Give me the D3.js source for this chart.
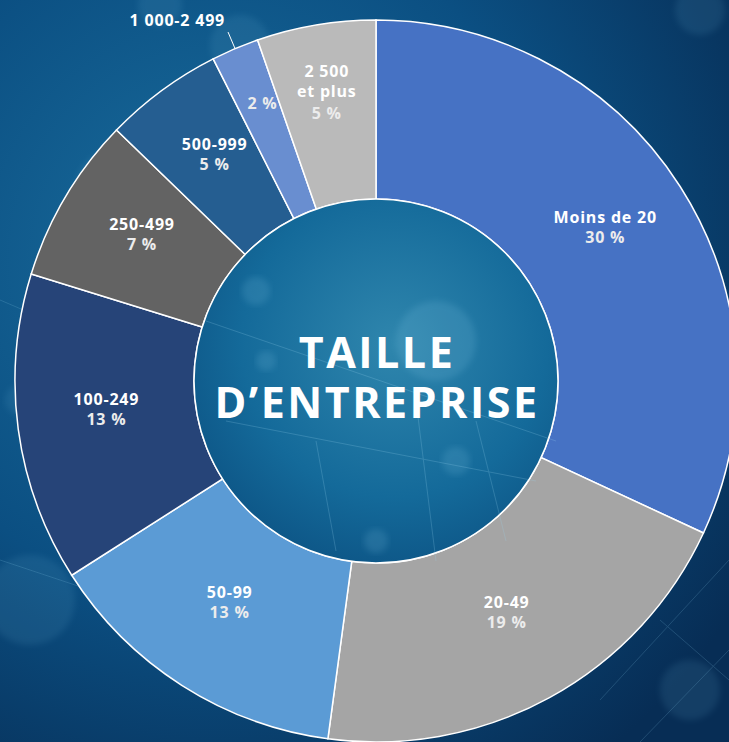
<html>
<head>
<script src="https://d3js.org/d3.v7.min.js"></script>
<style>
    body { margin: 0; background: #0b4a7a; }
    .label { font-family: "Open Sans", sans-serif; font-weight: 700; fill: #fff; font-size: 16px; letter-spacing: 0.8px; }
    .pct { fill: #ececec; }
    .title { font-family: "Open Sans", sans-serif; font-weight: 700; fill: #fff; font-size: 43px; letter-spacing: 2.5px; }
</style>
</head>
<body>
<svg id="donut" width="729" height="742"></svg>
<script>
    // company size categories and their shares (they add to 94)
    const categories = ["Moins de 20", "20-49", "50-99", "100-249", "250-499", "500-999", "1 000-2 499", "2 500 et plus"];
    const shares = [30, 19, 13, 13, 7, 5, 2, 5];
    const pctLabels = ["30 %", "19 %", "13 %", "13 %", "7 %", "5 %", "2 %", "5 %"];
    const colors = ["#4672c4", "#a5a5a5", "#5b9bd5", "#264478", "#636363", "#255e91", "#698ed0", "#bababa"];

    const svg = d3.select("#donut");
    const width = +svg.attr("width");
    const height = +svg.attr("height");
    const cx = 376, cy = 381;
    const rOuter = 361, rInner = 182;

    // background
    const defs = svg.append("defs");
    const bg = defs.append("radialGradient").attr("id", "bg")
        .attr("cx", "30%").attr("cy", "35%").attr("r", "85%");
    bg.append("stop").attr("offset", "0%").attr("stop-color", "#1a6e9e");
    bg.append("stop").attr("offset", "55%").attr("stop-color", "#0b4f82");
    bg.append("stop").attr("offset", "100%").attr("stop-color", "#072d55");
    const hole = defs.append("radialGradient").attr("id", "hole")
        .attr("cx", "55%").attr("cy", "40%").attr("r", "70%");
    hole.append("stop").attr("offset", "0%").attr("stop-color", "#2f86ad");
    hole.append("stop").attr("offset", "60%").attr("stop-color", "#146a9a");
    hole.append("stop").attr("offset", "100%").attr("stop-color", "#0b4f80");
    const glow = defs.append("filter").attr("id", "blur");
    glow.append("feGaussianBlur").attr("stdDeviation", 3);

    svg.append("rect").attr("width", width).attr("height", height).attr("fill", "url(#bg)");

    // faint network texture
    const tex = svg.append("g").attr("opacity", 0.18).attr("stroke", "#8fd0ee").attr("fill", "none");
    const texLines = [[[0, 560], [120, 600]], [[0, 300], [70, 330]], [[600, 700], [729, 560]], [[640, 742], [729, 650]], [[660, 620], [729, 680]]];
    texLines.forEach(l => tex.append("path").attr("d", d3.line()(l)));
    const bokeh = [[160, 5, 22], [240, 45, 30], [115, 190, 40], [20, 400, 15], [30, 600, 45], [700, 10, 25], [690, 690, 30]];
    svg.append("g").selectAll("circle").data(bokeh).join("circle")
        .attr("cx", d => d[0]).attr("cy", d => d[1]).attr("r", d => d[2])
        .attr("fill", "#6fb6d8").attr("opacity", 0.12).attr("filter", "url(#blur)");

    const g = svg.append("g").attr("transform", `translate(${cx},${cy})`);

    const pie = d3.pie().sort(null).value(d => d.v);
    const data = categories.map((c, i) => ({ cat: c, v: shares[i], pct: pctLabels[i], color: colors[i] }));
    const arcs = pie(data);
    const arc = d3.arc().innerRadius(rInner).outerRadius(rOuter);

    g.selectAll("path.slice").data(arcs).join("path")
        .attr("class", "slice")
        .attr("d", arc)
        .attr("fill", d => d.data.color)
        .attr("stroke", "#fff")
        .attr("stroke-width", 1.5);

    // centre hole
    g.append("circle").attr("r", rInner).attr("fill", "url(#hole)").attr("stroke", "#fff").attr("stroke-width", 1.5);
    const holeTex = g.append("g").attr("stroke", "#9ad4ee").attr("opacity", 0.22).attr("fill", "none");
    [[[-170, -60], [180, 60]], [[-150, 40], [160, 100]], [[40, 20], [60, 180]], [[-60, 60], [-40, 170]], [[100, 40], [130, 160]]]
        .forEach(l => holeTex.append("path").attr("d", d3.line()(l)));
    g.append("g").selectAll("circle").data([[-120, -90, 14], [60, -40, 40], [80, 80, 14], [-110, -20, 10], [0, 160, 12]]).join("circle")
        .attr("cx", d => d[0]).attr("cy", d => d[1]).attr("r", d => d[2])
        .attr("fill", "#8fd0ee").attr("opacity", 0.15).attr("filter", "url(#blur)");

    g.append("text").attr("class", "title").attr("text-anchor", "middle").attr("x", 1).attr("y", -13).text("TAILLE");
    g.append("text").attr("class", "title").attr("text-anchor", "middle").attr("x", 1).attr("y", 37).text("D\u2019ENTREPRISE");

    // labels
    const labelArc = d3.arc().innerRadius(272).outerRadius(272);
    const farArc = d3.arc().innerRadius(296).outerRadius(296);
    const lineH = 20;

    arcs.forEach((d, i) => {
        const cat = d.data.cat;
        if (cat === "1 000-2 499") {
            const [x, y] = farArc.centroid(d);
            g.append("text").attr("class", "label pct").attr("text-anchor", "middle")
                .attr("x", x + 2).attr("y", y).text(d.data.pct);
            const a = (d.startAngle + d.endAngle) / 2;
            const p1 = [Math.sin(a) * rOuter, -Math.cos(a) * rOuter];
            const p2 = [Math.sin(a) * (rOuter + 18), -Math.cos(a) * (rOuter + 18)];
            g.append("path").attr("d", d3.line()([p1, p2])).attr("stroke", "#fff").attr("stroke-width", 1);
            g.append("text").attr("class", "label").attr("text-anchor", "end")
                .attr("x", p2[0] - 3).attr("y", p2[1] - 6).text(cat);
            return;
        }
        let lines = [cat, d.data.pct];
        let [x, y] = labelArc.centroid(d);
        if (cat === "2 500 et plus") {
            lines = ["2 500", "et plus", d.data.pct];
            [x, y] = farArc.centroid(d);
            y -= 12;
        } else {
            y -= 12;
        }
        const t = g.append("text").attr("class", "label").attr("text-anchor", "middle")
            .attr("x", x).attr("y", y);
        lines.forEach((s, j) => {
            t.append("tspan").attr("x", x).attr("dy", j === 0 ? 0 : (j === 2 ? lineH + 2 : lineH))
                .attr("class", j === lines.length - 1 ? "pct" : null)
                .text(s);
        });
    });
</script>
</body>
</html>
